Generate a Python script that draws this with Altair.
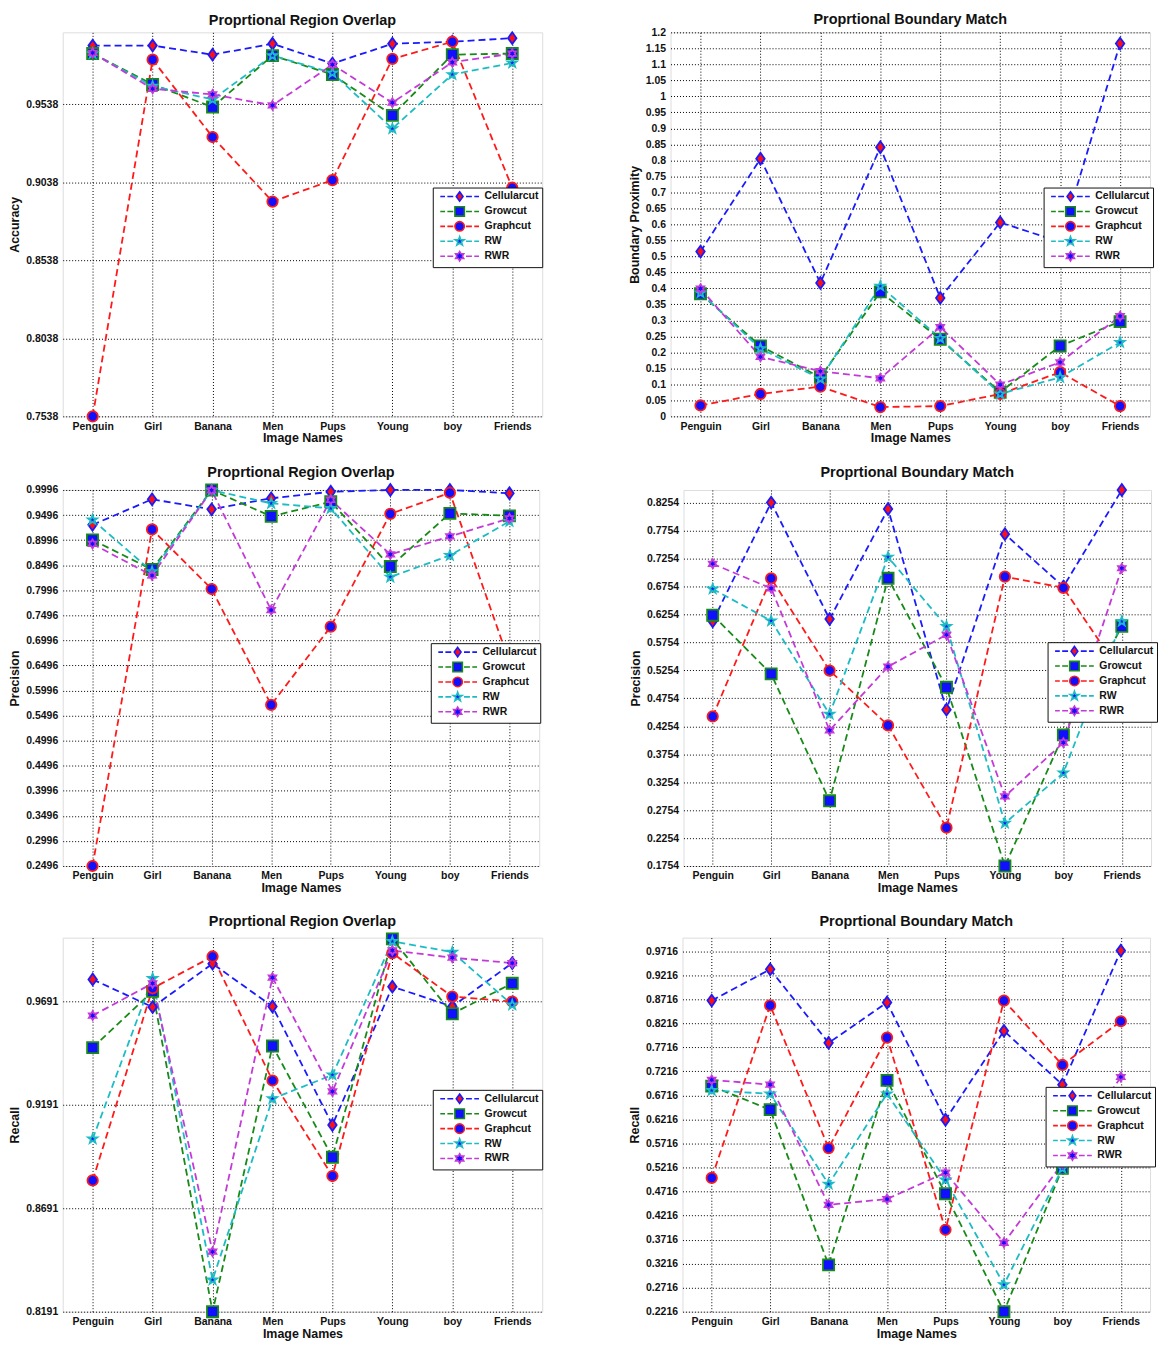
import math
import altair as alt
import pandas as pd

names = ["Penguin", "Girl", "Banana", "Men", "Pups", "Young", "boy", "Friends"]
methods = ["Cellularcut", "Growcut", "Graphcut", "RW", "RWR"]

# Panel 1: Accuracy (region overlap)
acc_cell = [0.9915, 0.9915, 0.9857, 0.9927, 0.9800, 0.9927, 0.9940, 0.9963]
acc_grow = [0.9864, 0.9666, 0.9521, 0.9851, 0.9730, 0.9468, 0.9857, 0.9864]
acc_graph = [0.7538, 0.9825, 0.9329, 0.8915, 0.9053, 0.9830, 0.9940, 0.9004]
acc_rw = [0.9864, 0.9655, 0.9570, 0.9851, 0.9740, 0.9383, 0.9730, 0.9804]
acc_rwr = [0.9868, 0.9638, 0.9602, 0.9532, 0.9793, 0.9549, 0.9808, 0.9864]
acc_ticks = [0.7538, 0.8038, 0.8538, 0.9038, 0.9538]

# Panel 2: Boundary proximity (boundary match)
bp_cell = [0.515, 0.805, 0.417, 0.841, 0.370, 0.606, 0.545, 1.165]
bp_grow = [0.383, 0.220, 0.122, 0.389, 0.241, 0.0755, 0.220, 0.296]
bp_graph = [0.034, 0.070, 0.093, 0.029, 0.032, 0.070, 0.138, 0.032]
bp_rw = [0.386, 0.212, 0.117, 0.407, 0.244, 0.070, 0.122, 0.231]
bp_rwr = [0.399, 0.186, 0.141, 0.119, 0.279, 0.099, 0.169, 0.313]
bp_ticks = [0, 0.05, 0.1, 0.15, 0.2, 0.25, 0.3, 0.35, 0.4, 0.45, 0.5, 0.55, 0.6,
            0.65, 0.7, 0.75, 0.8, 0.85, 0.9, 0.95, 1, 1.05, 1.1, 1.15, 1.2]

# Panel 3: Precision (region overlap)
pr_cell = [0.930, 0.981, 0.961, 0.983, 0.996, 0.9996, 0.9996, 0.993]
pr_grow = [0.900, 0.841, 0.9996, 0.947, 0.976, 0.847, 0.953, 0.948]
pr_graph = [0.2496, 0.921, 0.802, 0.571, 0.727, 0.952, 0.994, 0.656]
pr_rw = [0.940, 0.837, 0.9990, 0.973, 0.963, 0.826, 0.869, 0.937]
pr_rwr = [0.892, 0.829, 0.9990, 0.760, 0.980, 0.871, 0.907, 0.943]
pr_ticks = [0.2496, 0.2996, 0.3496, 0.3996, 0.4496, 0.4996, 0.5496, 0.5996,
            0.6496, 0.6996, 0.7496, 0.7996, 0.8496, 0.8996, 0.9496, 0.9996]

# Panel 4: Precision (boundary match)
pb_cell = [0.613, 0.8254, 0.617, 0.814, 0.455, 0.769, 0.675, 0.848]
pb_grow = [0.624, 0.519, 0.292, 0.690, 0.495, 0.1754, 0.410, 0.604]
pb_graph = [0.443, 0.690, 0.525, 0.427, 0.244, 0.693, 0.673, 0.518]
pb_rw = [0.671, 0.614, 0.447, 0.728, 0.604, 0.252, 0.342, 0.613]
pb_rwr = [0.716, 0.672, 0.418, 0.532, 0.589, 0.300, 0.396, 0.708]
pb_ticks = [0.1754, 0.2254, 0.2754, 0.3254, 0.3754, 0.4254, 0.4754, 0.5254,
            0.5754, 0.6254, 0.6754, 0.7254, 0.7754, 0.8254]

# Panel 5: Recall (region overlap)
rc_cell = [0.9798, 0.9664, 0.9874, 0.9667, 0.9094, 0.9763, 0.9667, 0.9877]
rc_grow = [0.9468, 0.9740, 0.8191, 0.9476, 0.8938, 0.9994, 0.9632, 0.9779]
rc_graph = [0.8826, 0.9755, 0.9909, 0.9309, 0.8847, 0.9925, 0.9715, 0.9691]
rc_rw = [0.9027, 0.9803, 0.8345, 0.9221, 0.9336, 0.9982, 0.9930, 0.9675]
rc_rwr = [0.9623, 0.9779, 0.8481, 0.9807, 0.9256, 0.9938, 0.9903, 0.9877]
rc_ticks = [0.8191, 0.8691, 0.9191, 0.9691]

# Panel 6: Recall (boundary match)
rb_cell = [0.869, 0.934, 0.781, 0.865, 0.621, 0.806, 0.694, 0.973]
rb_grow = [0.691, 0.642, 0.319, 0.703, 0.467, 0.2216, 0.520, 0.660]
rb_graph = [0.500, 0.859, 0.562, 0.792, 0.392, 0.869, 0.735, 0.826]
rb_rw = [0.682, 0.675, 0.487, 0.675, 0.496, 0.278, 0.520, 0.630]
rb_rwr = [0.704, 0.694, 0.444, 0.456, 0.511, 0.365, 0.530, 0.710]
rb_ticks = [0.2216, 0.2716, 0.3216, 0.3716, 0.4216, 0.4716, 0.5216, 0.5716,
            0.6216, 0.6716, 0.7216, 0.7716, 0.8216, 0.8716, 0.9216, 0.9716]

# ---------------- styles ----------------
FONT = "Liberation Sans"
line_colors = ["#1a1aff", "#178a17", "#ff1a1a", "#1cbcc4", "#c43ad8"]
fill_colors = ["#ff1010", "#1010ff", "#1010ff", "#1010ff", "#1010ff"]


def star_path(n, inner):
    pts = []
    for k in range(2 * n):
        r = 1.0 if k % 2 == 0 else inner
        a = math.radians(-90 + k * 180 / n)
        pts.append(f"{r * math.cos(a):.3f},{r * math.sin(a):.3f}")
    return "M" + "L".join(pts) + "Z"


diamond = "M0,-1L0.72,0L0,1L-0.72,0Z"
square = "M-1,-1H1V1H-1Z"
circle = "M1,0A1,1,0,1,1,-1,0A1,1,0,1,1,1,0Z"
pentagram = star_path(5, 0.40)
hexagram = star_path(6, 0.58)
marker_paths = [diamond, square, circle, pentagram, hexagram]
marker_sizes = [140, 80, 100, 180, 140]
dashes = "M-4.1,0H-3.1M-2.6,0H-1.35M1.35,0H2.6M3.1,0H4.1"
legend_paths = [dashes + p for p in marker_paths]


def make_panel(title, ytitle, series, domain, ticks, fmt, width, height, leg_x, leg_y, toff):
    rows = []
    for m, vals in zip(methods, series):
        for i, (n, v) in enumerate(zip(names, vals)):
            rows.append({"name": n, "idx": i, "method": m, "label": m, "value": v})
    df = pd.DataFrame(rows)
    base = alt.Chart(df)
    x = alt.X("name:N", sort=names, scale=alt.Scale(type="point", padding=0.5),
              axis=alt.Axis(title="Image Names", labelAngle=0, grid=True, gridDash=[1, 2],
                            gridColor="#000", gridOpacity=1, gridWidth=1, tickSize=0, domain=False,
                            labelFont=FONT, labelFontSize=10.5, labelFontWeight="bold",
                            labelColor="#111", labelPadding=5, titleFont=FONT,
                            titleFontSize=12.5, titleFontWeight="bold", titleColor="#111",
                            titlePadding=0))
    y = alt.Y("value:Q", scale=alt.Scale(domain=domain, nice=False, zero=False),
              axis=alt.Axis(values=ticks, format=fmt, title=ytitle, grid=True, gridDash=[1, 2],
                            gridColor="#000", gridOpacity=1, gridWidth=1, tickSize=0, domain=False,
                            labelFont=FONT, labelFontSize=10.5, labelFontWeight="bold",
                            labelColor="#111", labelPadding=5, titleFont=FONT,
                            titleFontSize=12.5, titleFontWeight="bold", titleColor="#111",
                            titlePadding=4))
    lines = base.mark_line(strokeDash=[7, 4], strokeWidth=1.8).encode(
        x=x, y=y, order=alt.Order("idx:Q"),
        stroke=alt.Stroke("method:N", scale=alt.Scale(domain=methods, range=line_colors), legend=None),
    )
    points = base.mark_point(filled=True, opacity=1, strokeWidth=1.8).encode(
        x=x, y=y,
        shape=alt.Shape("method:N", scale=alt.Scale(domain=methods, range=marker_paths), legend=None),
        fill=alt.Fill("method:N", scale=alt.Scale(domain=methods, range=fill_colors), legend=None),
        stroke=alt.Stroke("method:N", scale=alt.Scale(domain=methods, range=line_colors), legend=None),
        size=alt.Size("method:N", scale=alt.Scale(domain=methods, range=marker_sizes), legend=None),
    )
    leg = alt.Legend(orient="none", legendX=leg_x, legendY=leg_y, title=None,
                     fillColor="white", strokeColor="#111", padding=3, rowPadding=-1,
                     labelFont=FONT, labelFontSize=10.5, labelFontWeight="bold",
                     labelColor="#111", symbolSize=90, symbolStrokeWidth=1.6,
                     symbolOffset=18, labelOffset=19)
    legend_layer = base.transform_filter("false").mark_point(filled=True, opacity=1).encode(
        shape=alt.Shape("label:N", scale=alt.Scale(domain=methods, range=legend_paths), legend=leg),
        fill=alt.Fill("label:N", scale=alt.Scale(domain=methods, range=fill_colors), legend=leg),
        stroke=alt.Stroke("label:N", scale=alt.Scale(domain=methods, range=line_colors), legend=leg),
    )
    return alt.layer(lines, points, legend_layer).properties(
        width=width, height=height,
        title=alt.Title(title, font=FONT, fontSize=14.5, fontWeight="bold", color="#111",
                        offset=toff, frame="group", anchor="middle"),
    ).resolve_scale(shape="independent", fill="independent", stroke="independent", size="independent")


RO = "Proprtional Region Overlap"
BM = "Proprtional Boundary Match"

p1 = make_panel(RO, "Accuracy", [acc_cell, acc_grow, acc_graph, acc_rw, acc_rwr],
                [0.7538, 1.0], acc_ticks, ".4f", 482, 386, 372, 156, 0)
p2 = make_panel(BM, "Boundary Proximity", [bp_cell, bp_grow, bp_graph, bp_rw, bp_rwr],
                [0, 1.2], bp_ticks, "~g", 482, 386, 375, 156, 0)
p3 = make_panel(RO, "Precision", [pr_cell, pr_grow, pr_graph, pr_rw, pr_rwr],
                [0.2496, 0.9996], pr_ticks, ".4f", 479, 378, 370, 154, 0)
p4 = make_panel(BM, "Precision", [pb_cell, pb_grow, pb_graph, pb_rw, pb_rwr],
                [0.1754, 0.848], pb_ticks, ".4f", 470, 378, 366, 153, 0)
p5 = make_panel(RO, "Recall", [rc_cell, rc_grow, rc_graph, rc_rw, rc_rwr],
                [0.8191, 1.0], rc_ticks, ".4f", 482, 376, 372, 153, 0)
p6 = make_panel(BM, "Recall", [rb_cell, rb_grow, rb_graph, rb_rw, rb_rwr],
                [0.2216, 1.0], rb_ticks, ".4f", 470, 376, 365, 150, 8)

res = dict(shape="independent", fill="independent", stroke="independent", size="independent")
row1 = alt.hconcat(p1, p2, spacing=85).resolve_scale(**res)
row2 = alt.hconcat(p3, p4, spacing=88).resolve_scale(**res)
row3 = alt.hconcat(p5, p6, spacing=85).resolve_scale(**res)

chart = alt.vconcat(row1, row2, row3, spacing=19).resolve_scale(**res).properties(
    padding=0
).configure_view(stroke="#222", strokeWidth=1.2).configure(background="white")

chart.save("out.html", embed_options={"renderer": "svg", "actions": False})
